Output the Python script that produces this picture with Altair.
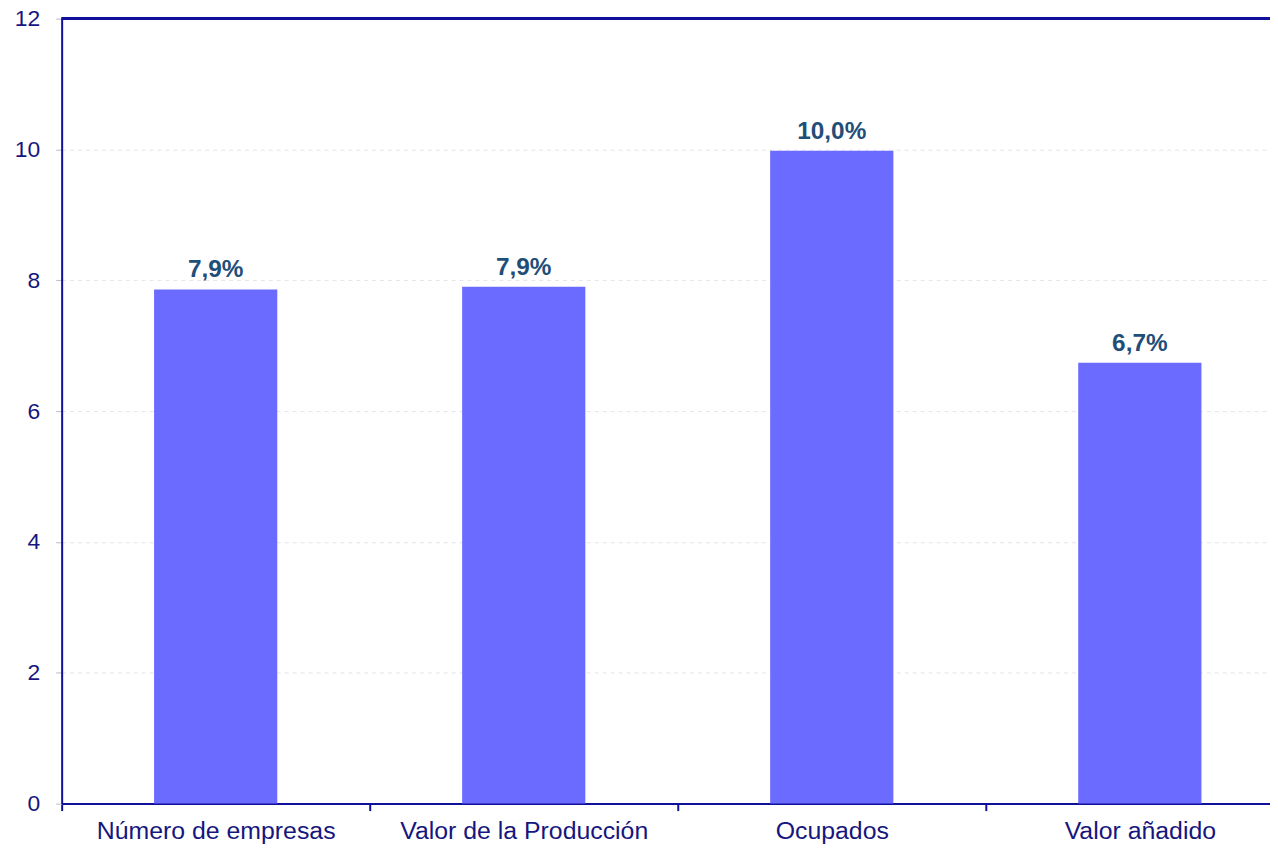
import altair as alt
import pandas as pd

categories = ["Número de empresas", "Valor de la Producción", "Ocupados", "Valor añadido"]
values = [7.86, 7.9, 9.98, 6.74]
labels = ["7,9%", "7,9%", "10,0%", "6,7%"]

df = pd.DataFrame({"cat": categories, "val": values, "lab": labels})

NAVY = "#10109A"
FONT = "Liberation Sans"

x = alt.X("cat:N", sort=categories, title=None,
          scale=alt.Scale(range=[0, 1240], paddingInner=0, paddingOuter=0),
          axis=alt.Axis(labelAngle=0, labelFontSize=25, labelColor="#16167E", labelFont=FONT,
                        labelLimit=0, domainColor=NAVY, domainWidth=2, tickColor=NAVY, tickWidth=2,
                        tickSize=7, tickBand="extent", labelPadding=8, grid=False))
y = alt.Y("val:Q", title=None,
          scale=alt.Scale(domain=[0, 12], nice=False),
          axis=alt.Axis(values=[0, 2, 4, 6, 8, 10, 12], format="d", labelFontSize=23,
                        labelColor="#16167E", labelFont=FONT, domainColor=NAVY, domainWidth=2,
                        tickColor="#B8B8D0", tickSize=6, tickWidth=1, labelPadding=16, grid=True,
                        gridColor="#E4E4EC", gridDash=[4, 4], gridWidth=1))

bars = alt.Chart(df).mark_bar(color="#6B6BFF", width=alt.RelativeBandSize(0.4)).encode(x=x, y=y)
text = alt.Chart(df).mark_text(dy=-12, baseline="alphabetic", fontSize=24.5, fontWeight="bold",
                               color="#1F4E79", font=FONT).encode(x=x, y=y, text="lab:N")
top = alt.Chart(df).mark_rule(color=NAVY, strokeWidth=2.5).encode(
    y=alt.datum(12), x=alt.value(0), x2=alt.value(1240))

chart = alt.layer(bars, text, top).properties(
    width=1216, height=790,
    autosize=alt.AutoSizeParams(type="none"),
    padding={"left": 54, "top": 8, "right": 0, "bottom": 40},
).configure_view(stroke=None)

chart.save("out.html", embed_options={"renderer": "svg", "actions": False})
